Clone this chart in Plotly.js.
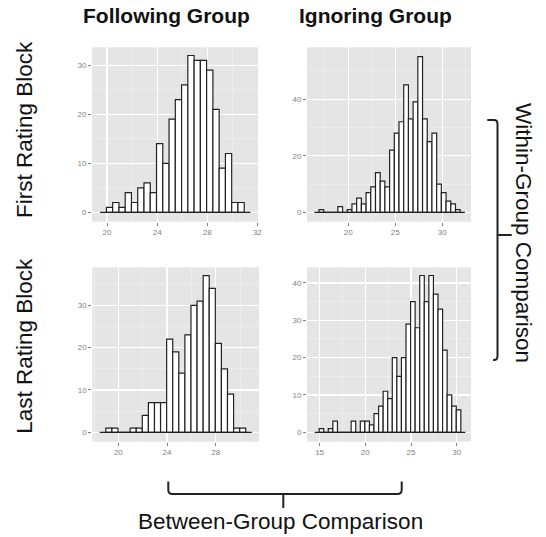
<!DOCTYPE html>
<html><head><meta charset="utf-8">
<script src="https://cdn.plot.ly/plotly-3.0.1.min.js"></script>
<style>html,body{margin:0;padding:0;background:#fff}#chart{width:546px;height:537px}</style>
</head><body><div id="chart"></div>
<script>
// ---- data (histogram counts) ----
const columnTitles = ["Following Group", "Ignoring Group"];
const rowTitles = ["First Rating Block", "Last Rating Block"];
const binWidth = 0.5;

const followFirstStart = 19.95;
const followFirstCounts = [1,2,1,4,2,5,6,4,14,10,19,23,26,32,31,31,29,21,9,12,2,2];

const ignoreFirstStart = 16.9;
const ignoreFirstCounts = [1,0,0,0,2,0,1,3,5,3,7,9,14,11,9,22,28,32,45,33,39,55,33,25,28,10,7,4,3,1];

const followLastStart = 18.97;
const followLastCounts = [1,1,0,0,1,1,4,7,7,7,22,19,14,23,30,31,37,34,21,15,9,1,1];

const ignoreLastStart = 14.95;
const ignoreLastCounts = [1,0,1,3,0,0,0,3,0,3,3,2,5,7,11,9,20,15,20,29,35,28,42,35,42,37,33,22,10,7,6];

// ---- figure ----
const W = 546, H = 537;
const px = x => x / W;
const py = y => 1 - y / H;

const panels = [
  {start: followFirstStart, counts: followFirstCounts, xa: 'x',  ya: 'y'},
  {start: ignoreFirstStart, counts: ignoreFirstCounts, xa: 'x2', ya: 'y2'},
  {start: followLastStart,  counts: followLastCounts,  xa: 'x3', ya: 'y3'},
  {start: ignoreLastStart,  counts: ignoreLastCounts,  xa: 'x4', ya: 'y4'}
];

const traces = [];
panels.forEach(p => {
  const centers = p.counts.map((_, i) => p.start + (i + 0.5) * binWidth);
  // baseline including one empty bin on each side
  traces.push({
    type: 'scatter', mode: 'lines', xaxis: p.xa, yaxis: p.ya,
    x: [p.start - binWidth, p.start + (p.counts.length + 1) * binWidth], y: [0, 0],
    line: {color: '#222', width: 1.2}, hoverinfo: 'skip'
  });
  traces.push({
    type: 'bar', xaxis: p.xa, yaxis: p.ya,
    x: centers, y: p.counts, width: binWidth,
    marker: {color: '#ffffff', line: {color: '#222', width: 1.2}},
    hoverinfo: 'skip'
  });
});

function axis(domain, range, tick0, dtick, anchor) {
  return {
    domain: domain, range: range, anchor: anchor,
    tick0: tick0, dtick: dtick,
    showgrid: true, gridcolor: '#ffffff', gridwidth: 1.2,
    minor: {dtick: dtick / 2, tick0: tick0, showgrid: true, gridcolor: '#F2F2F2', gridwidth: 0.6, ticks: ''},
    zeroline: false, showline: false,
    ticks: 'outside', ticklen: 3, tickwidth: 1, tickcolor: '#7f7f7f',
    tickfont: {family: 'Liberation Sans, Arial, sans-serif', size: 8, color: '#7f7f7f'},
    fixedrange: true
  };
}

const xL = [px(92), px(258)], xR = [px(307), px(471)], xL2 = [px(92.3), px(259)];
const yT = [py(221.7), py(47.3)], yB = [py(441.7), py(267.3)];

const annFont = {family: 'Liberation Sans, Arial, sans-serif', size: 22.5, color: '#111'};
const titleFont = {family: 'Liberation Sans, Arial, sans-serif', size: 21, color: '#111'};

const layout = {
  width: W, height: H,
  margin: {l: 0, r: 0, t: 0, b: 0, pad: 0},
  paper_bgcolor: '#ffffff', plot_bgcolor: '#E5E5E5',
  showlegend: false, bargap: 0,
  xaxis:  axis(xL,  [18.8, 32.05], 20, 4, 'y'),
  yaxis:  axis(yT,  [-1.92, 33.67], 0, 10, 'x'),
  xaxis2: axis(xR,  [15.62, 33.05], 20, 5, 'y2'),
  yaxis2: axis(yT,  [-3.3, 58.3], 0, 20, 'x2'),
  xaxis3: axis(xL2, [17.86, 31.56], 20, 4, 'y3'),
  yaxis3: axis(yB,  [-2.22, 38.98], 0, 10, 'x3'),
  xaxis4: axis(xR,  [13.62, 31.56], 15, 5, 'y4'),
  yaxis4: axis(yB,  [-2.52, 44.2], 0, 10, 'x4'),
  annotations: [
    {text: '<b>' + columnTitles[0] + '</b>', x: px(166.7), y: py(15), font: titleFont},
    {text: '<b>' + columnTitles[1] + '</b>', x: px(375.8), y: py(15), font: titleFont},
    {text: rowTitles[0], x: px(25), y: py(130), textangle: -90, font: annFont},
    {text: rowTitles[1], x: px(25), y: py(345.8), textangle: -90, font: annFont},
    {text: 'Within-Group Comparison', x: px(523), y: py(233), textangle: 90, font: annFont},
    {text: 'Between-Group Comparison', x: px(280), y: py(521), font: annFont}
  ].map(a => Object.assign({xref: 'paper', yref: 'paper', xanchor: 'center', yanchor: 'middle', showarrow: false}, a)),
  shapes: [
    // bottom brace
    {type: 'path', xref: 'paper', yref: 'paper', line: {color: '#222', width: 2},
     path: `M ${px(168.3)},${py(481.5)} L ${px(168.3)},${py(490)} Q ${px(168.3)},${py(494)} ${px(172.5)},${py(494)} L ${px(397.5)},${py(494)} Q ${px(401.7)},${py(494)} ${px(401.7)},${py(490)} L ${px(401.7)},${py(481.5)}`},
    {type: 'line', xref: 'paper', yref: 'paper', line: {color: '#222', width: 2},
     x0: px(283.3), y0: py(494), x1: px(283.3), y1: py(508)},
    // right brace
    {type: 'path', xref: 'paper', yref: 'paper', line: {color: '#222', width: 2},
     path: `M ${px(487.3)},${py(120)} L ${px(494)},${py(120)} Q ${px(497.5)},${py(120)} ${px(497.5)},${py(124)} L ${px(497.5)},${py(356)} Q ${px(497.5)},${py(360)} ${px(494)},${py(360)} L ${px(493)},${py(360)}`},
    {type: 'line', xref: 'paper', yref: 'paper', line: {color: '#222', width: 2},
     x0: px(497.5), y0: py(235), x1: px(511.7), y1: py(235)}
  ]
};

Plotly.newPlot('chart', traces, layout, {displayModeBar: false, staticPlot: true});
</script>
</body></html>
